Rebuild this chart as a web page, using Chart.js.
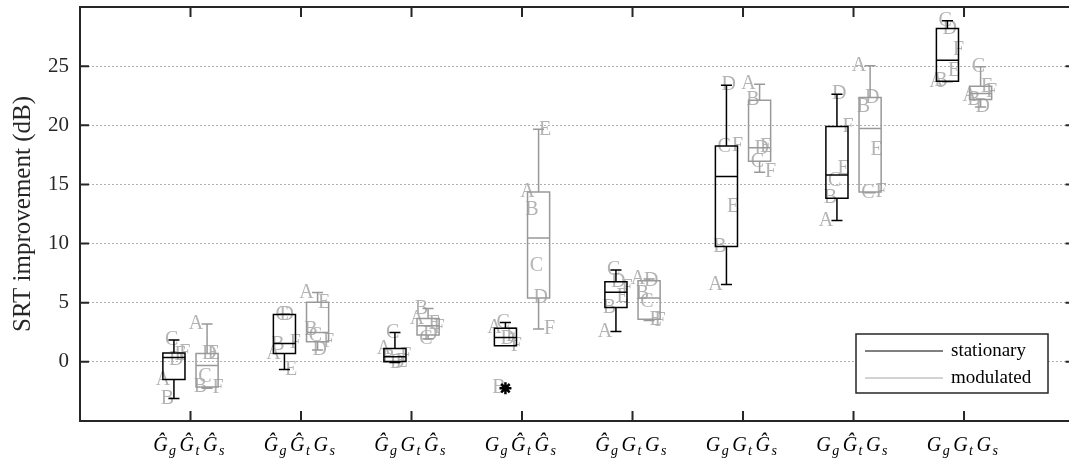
<!DOCTYPE html>
<html>
<head>
<meta charset="utf-8">
<script src="https://cdn.jsdelivr.net/npm/chart.js@4"></script>
<style>
html, body { margin: 0; padding: 0; background: #fff; overflow: hidden; }
#chart { width: 1069px; height: 462px; display: block; }
</style>
</head>
<body>
<canvas id="chart" width="1069" height="462"></canvas>
<script>
// one label per condition, as [base, subscript] pairs
const categories = [
    [['Ĝ', 'g'], ['Ĝ', 't'], ['Ĝ', 's']],
    [['Ĝ', 'g'], ['Ĝ', 't'], ['G', 's']],
    [['Ĝ', 'g'], ['G', 't'], ['Ĝ', 's']],
    [['G', 'g'], ['Ĝ', 't'], ['Ĝ', 's']],
    [['Ĝ', 'g'], ['G', 't'], ['G', 's']],
    [['G', 'g'], ['G', 't'], ['Ĝ', 's']],
    [['G', 'g'], ['Ĝ', 't'], ['G', 's']],
    [['G', 'g'], ['G', 't'], ['G', 's']]
];
const participants = ['A', 'B', 'C', 'D', 'E', 'F'];
const yTicks = [0, 5, 10, 15, 20, 25];

// SRT improvement (dB), one row per condition, values for A..F
const stationary = [
    [-1.5, -3.1, 1.85, 0.15, 0.6, 0.75],
    [0.71, 1.45, 4.0, 4.02, -0.65, 1.65],
    [1.13, 0.35, 2.48, -0.05, 0.03, 0.5],
    [2.85, -2.23, 3.33, 1.95, 2.17, 1.36],
    [2.57, 4.6, 7.77, 6.78, 5.5, 6.25],
    [6.53, 9.75, 18.2, 23.39, 13.15, 18.25],
    [11.95, 13.84, 15.3, 22.63, 16.3, 19.9],
    [23.7, 23.73, 28.84, 28.19, 24.6, 26.4]
];
const modulated = [
    [3.2, -2.12, -1.25, 0.65, 0.71, -2.23],
    [5.87, 2.75, 2.2, 1.0, 5.03, 1.7],
    [3.67, 4.52, 1.95, 2.26, 3.2, 2.9],
    [14.35, 12.85, 8.1, 5.4, 19.66, 2.77],
    [7.0, 5.75, 5.05, 6.86, 3.6, 3.5],
    [23.47, 22.12, 16.95, 18.0, 18.2, 16.04],
    [25.03, 21.55, 14.3, 22.34, 17.9, 14.35],
    [22.5, 22.17, 24.94, 21.55, 23.3, 22.86]
];

const seriesNames = ['stationary', 'modulated'];
const seriesColors = ['#000000', '#999999'];
const letterColor = '#b3b3b3';
const frameColor = '#262626';
const serif = "'Liberation Serif', 'Times New Roman', serif";

// the axes box runs from 0 to 9, but the figure is cut just before its right edge
const xFrameMax = 9;
const xVisibleMax = 8.95;

// matlab style percentile
function prctile(sorted, p) {
    const n = sorted.length;
    const pos = n * p / 100 + 0.5;
    if (pos <= 1) return sorted[0];
    if (pos >= n) return sorted[n - 1];
    const i = Math.floor(pos);
    const f = pos - i;
    return sorted[i - 1] + f * (sorted[i] - sorted[i - 1]);
}

function boxStats(values) {
    const s = values.slice().sort((a, b) => a - b);
    const q1 = prctile(s, 25), q3 = prctile(s, 75), med = prctile(s, 50);
    const iqr = q3 - q1;
    const inside = s.filter(v => v >= q1 - 1.5 * iqr && v <= q3 + 1.5 * iqr);
    return {
        q1: q1, q3: q3, med: med,
        lo: Math.min(...inside), hi: Math.max(...inside),
        out: s.filter(v => v < q1 - 1.5 * iqr || v > q3 + 1.5 * iqr)
    };
}

const allSeries = [stationary, modulated];
const offsets = [-0.15, 0.15];
const boxWidth = 0.2;

let outlierPoints = [];
allSeries.forEach((series, s) => {
    series.forEach((vals, i) => {
        boxStats(vals).out.forEach(v => outlierPoints.push({ x: i + 1 + offsets[s], y: v }));
    });
});

const boxPlugin = {
    id: 'boxes',
    beforeDatasetsDraw(chart) {
        const ctx = chart.ctx, xs = chart.scales.x, ys = chart.scales.y;
        ctx.save();
        ctx.font = '20px ' + serif;
        ctx.fillStyle = letterColor;
        ctx.textAlign = 'center';
        ctx.textBaseline = 'middle';
        allSeries.forEach((series, s) => {
            series.forEach((vals, i) => {
                vals.forEach((v, p) => {
                    const px = xs.getPixelForValue(i + 1 + offsets[s]) + (p - 2.5) * 4.4;
                    ctx.fillText(participants[p], px, ys.getPixelForValue(v));
                });
            });
        });
        ctx.restore();
    },
    afterDatasetsDraw(chart) {
        const ctx = chart.ctx, xs = chart.scales.x, ys = chart.scales.y;
        const half = (xs.getPixelForValue(boxWidth) - xs.getPixelForValue(0)) / 2;
        ctx.save();
        ctx.lineWidth = 1.5;
        allSeries.forEach((series, s) => {
            ctx.strokeStyle = seriesColors[s];
            series.forEach((vals, i) => {
                const st = boxStats(vals);
                const cx = xs.getPixelForValue(i + 1 + offsets[s]);
                const yq1 = ys.getPixelForValue(st.q1), yq3 = ys.getPixelForValue(st.q3);
                const ylo = ys.getPixelForValue(st.lo), yhi = ys.getPixelForValue(st.hi);
                const ym = ys.getPixelForValue(st.med);
                ctx.beginPath();
                ctx.rect(cx - half, yq3, 2 * half, yq1 - yq3);
                ctx.moveTo(cx - half, ym); ctx.lineTo(cx + half, ym);
                ctx.moveTo(cx, yq3); ctx.lineTo(cx, yhi);
                ctx.moveTo(cx - half / 2, yhi); ctx.lineTo(cx + half / 2, yhi);
                ctx.moveTo(cx, yq1); ctx.lineTo(cx, ylo);
                ctx.moveTo(cx - half / 2, ylo); ctx.lineTo(cx + half / 2, ylo);
                ctx.stroke();
            });
        });
        ctx.restore();
    },
    afterDraw(chart) {
        const ctx = chart.ctx, xs = chart.scales.x, ys = chart.scales.y;
        const a = chart.chartArea;
        const right = xs.getPixelForValue(xFrameMax);
        ctx.save();
        // frame and inward ticks
        ctx.strokeStyle = frameColor;
        ctx.lineWidth = 2;
        ctx.strokeRect(a.left, a.top, right - a.left, a.bottom - a.top);
        ctx.beginPath();
        yTicks.forEach(t => {
            const py = ys.getPixelForValue(t);
            ctx.moveTo(a.left, py); ctx.lineTo(a.left + 9, py);
            ctx.moveTo(right, py); ctx.lineTo(right - 9, py);
        });
        categories.forEach((c, i) => {
            const px = xs.getPixelForValue(i + 1);
            ctx.moveTo(px, a.bottom); ctx.lineTo(px, a.bottom - 10);
            ctx.moveTo(px, a.top); ctx.lineTo(px, a.top + 10);
        });
        ctx.stroke();

        // category labels
        ctx.fillStyle = '#000';
        ctx.textBaseline = 'alphabetic';
        ctx.textAlign = 'left';
        const baseFont = 'italic 20px ' + serif, subFont = 'italic 14px ' + serif;
        categories.forEach((label, i) => {
            let w = 0;
            label.forEach(([b, sub]) => {
                ctx.font = baseFont; w += ctx.measureText(b).width + 1.5;
                ctx.font = subFont; w += ctx.measureText(sub).width + 3.5;
            });
            let px = xs.getPixelForValue(i + 1) - w / 2;
            const base = 451;
            label.forEach(([b, sub]) => {
                ctx.font = baseFont; ctx.fillText(b, px, base); px += ctx.measureText(b).width + 1.5;
                ctx.font = subFont; ctx.fillText(sub, px, base + 4); px += ctx.measureText(sub).width + 3.5;
            });
        });

        // legend
        const lx = 856, ly = 334, lw = 192, lh = 59;
        ctx.fillStyle = '#fff';
        ctx.fillRect(lx, ly, lw, lh);
        ctx.lineWidth = 1.5;
        ctx.strokeStyle = frameColor;
        ctx.strokeRect(lx, ly, lw, lh);
        ctx.font = '19px ' + serif;
        ctx.textBaseline = 'middle';
        ctx.fillStyle = '#000';
        seriesNames.forEach((name, s) => {
            const rowY = ly + 17 + s * 27;
            ctx.strokeStyle = s === 0 ? '#000' : '#a6a6a6';
            ctx.lineWidth = 1;
            ctx.beginPath();
            ctx.moveTo(lx + 9, rowY); ctx.lineTo(lx + 87, rowY);
            ctx.stroke();
            ctx.fillText(name, lx + 95, rowY);
        });
        ctx.restore();
    }
};

const ctx = document.getElementById('chart');
const chart = new Chart(ctx, {
    type: 'scatter',
    data: {
        datasets: [{
            label: 'outliers',
            data: outlierPoints,
            pointStyle: 'star',
            pointRadius: 6,
            borderWidth: 2.5,
            borderColor: '#000',
            backgroundColor: '#000'
        }]
    },
    options: {
        responsive: false,
        animation: false,
        devicePixelRatio: 1,
        layout: { autoPadding: false, padding: { top: 7, left: 0, right: 0, bottom: 0 } },
        plugins: { legend: { display: false }, tooltip: { enabled: false } },
        scales: {
            x: {
                type: 'linear', min: 0, max: xVisibleMax,
                ticks: { display: false },
                grid: { display: false, drawTicks: false },
                border: { display: false },
                afterFit: s => { s.height = 41; s.paddingLeft = 0; s.paddingRight = 0; }
            },
            y: {
                min: -5, max: 30,
                afterBuildTicks: s => { s.ticks = yTicks.map(v => ({ value: v })); },
                ticks: { color: '#262626', padding: 11, font: { family: serif, size: 21 } },
                grid: { color: '#b0b0b0', lineWidth: 1, drawTicks: false },
                border: { display: false, dash: [2, 2] },
                title: {
                    display: true, text: 'SRT improvement (dB)', color: '#262626',
                    font: { family: serif, size: 25 }, padding: { top: 8, bottom: 0 }
                },
                afterFit: s => { s.width = 80; s.paddingTop = 0; s.paddingBottom = 0; }
            }
        }
    },
    plugins: [boxPlugin]
});
</script>
</body>
</html>
